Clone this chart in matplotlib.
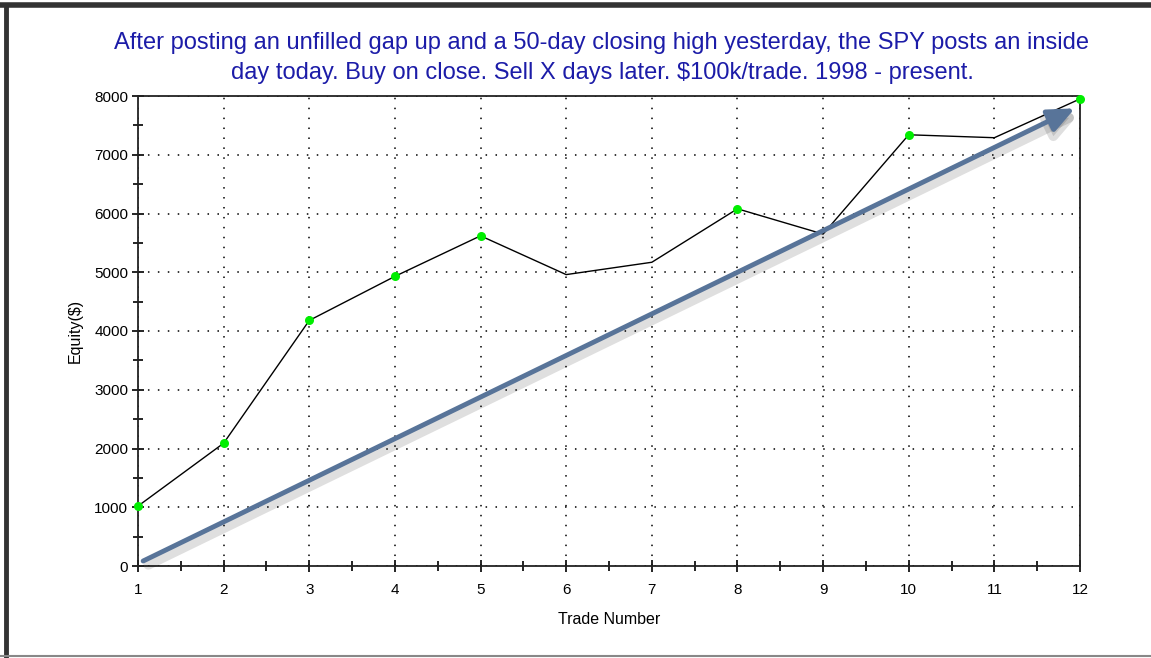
import matplotlib
matplotlib.use("Agg")
import matplotlib.pyplot as plt
from matplotlib.lines import Line2D

trade_number = [1, 2, 3, 4, 5, 6, 7, 8, 9, 10, 11, 12]
equity = [1020, 2090, 4180, 4930, 5620, 4960, 5170, 6080, 5650, 7340, 7290, 7950]
new_high_trades = [1, 2, 3, 4, 5, 8, 10, 12]
new_high_equity = [1020, 2090, 4180, 4930, 5620, 6080, 7340, 7950]
title = ("After posting an unfilled gap up and a 50-day closing high yesterday, the SPY posts an inside\n"
         "day today. Buy on close. Sell X days later. $100k/trade. 1998 - present.")

plt.rcParams['font.family'] = ['Liberation Sans', 'DejaVu Sans']

W, H = 1151, 658
fig = plt.figure(figsize=(W / 100, H / 100), dpi=100)
ax = fig.add_axes([138 / W, 1 - 566 / H, (1080 - 138) / W, (566 - 96) / H])

ax.plot(trade_number, equity, color='black', lw=1.0, zorder=3)
ax.plot(new_high_trades, new_high_equity, 'o', color='#00ee00', ms=6.5, zorder=4,
        markeredgewidth=0, clip_on=False)

ax.set_xlim(1, 12)
ax.set_ylim(0, 8000)
ax.set_xticks(range(1, 13))
ax.set_yticks(range(0, 8001, 1000))
ax.set_xticks([x + 0.5 for x in range(1, 12)], minor=True)
ax.set_yticks([y + 500 for y in range(0, 8000, 1000)], minor=True)
ax.tick_params(axis='both', which='major', direction='inout', length=8, width=1.2,
               labelsize=11, colors='black')
ax.tick_params(axis='x', which='major', pad=8)
ax.tick_params(axis='y', which='major', pad=3)
ax.tick_params(axis='both', which='minor', direction='inout', length=7, width=1.2)
ax.tick_params(top=False, right=False, which='both')
ax.grid(True, which='major', color='black', linestyle=(0, (1, 5.5)), lw=1.1)
for s in ax.spines.values():
    s.set_linewidth(1.3)
    s.set_color('#222222')

ax.set_xlabel('Trade Number', fontsize=11.5, labelpad=11)
ax.set_ylabel('Equity($)', fontsize=11.5, labelpad=8)

fig.text(602 / W, 1 - 58 / H, title, fontsize=17, color='#1c1ca8', ha='center', va='center',
         linespacing=1.42)

# trend arrow with shadow
ax.annotate('', xy=(12.0, 7720), xytext=(1.12, 20), zorder=5,
            arrowprops=dict(arrowstyle='-|>,head_length=1.6,head_width=0.7', lw=7,
                            color='#00000020', shrinkA=0, shrinkB=0))
ax.annotate('', xy=(11.94, 7790), xytext=(1.06, 85), zorder=6,
            arrowprops=dict(arrowstyle='-|>,head_length=1.6,head_width=0.7', lw=3.5,
                            color='#587499', shrinkA=0, shrinkB=0))

# frame lines of the screenshot
fig.add_artist(Line2D([0, 1], [1 - 5 / H, 1 - 5 / H], color='#333333', lw=4, transform=fig.transFigure))
fig.add_artist(Line2D([6 / W, 6 / W], [0, 1 - 5 / H], color='#333333', lw=3.5, transform=fig.transFigure))
fig.add_artist(Line2D([0, 1], [2 / H, 2 / H], color='#888888', lw=1.5, transform=fig.transFigure))

fig.savefig('out.png', dpi=100)
